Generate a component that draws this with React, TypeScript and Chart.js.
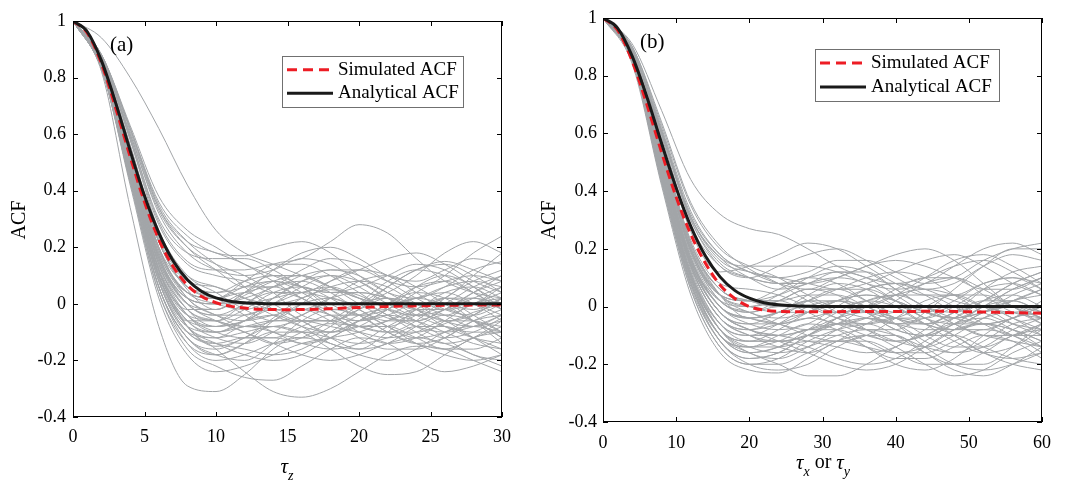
import React, { useEffect, useRef } from "react";
import { Chart, registerables } from "chart.js";
Chart.register(...registerables);

// ---------- Panel (a) data ----------
const tauA = [0,1,2,3,4,5,6,7,8,9,10,11,12,13,14,15,16,17,18,19,20,21,22,23,24,25,26,27,28,29,30];
const analyticalA = [1,0.962,0.858,0.708,0.541,0.382,0.251,0.152,0.085,0.044,0.021,0.0095,0.004,0.0015,0,0,0,0,0,0,0,0,0,0,0,0,0,0,0,0,0];
const simulatedA = [1,0.958,0.848,0.69,0.52,0.36,0.228,0.132,0.066,0.026,0.004,-0.008,-0.015,-0.019,-0.02,-0.021,-0.02,-0.019,-0.017,-0.015,-0.013,-0.011,-0.009,-0.008,-0.007,-0.006,-0.005,-0.005,-0.004,-0.004,-0.004];
const sampleTauA = [0,2,4,6,8,10,12,14,16,18,20,22,24,26,28,30];
const realizationsA = [
  [1,0.86,0.55,0.22,0.05,-0.02,0.03,0.08,0.10,0.06,0.00,-0.05,-0.06,-0.02,0.04,0.08],
  [1,0.84,0.48,0.12,-0.08,-0.15,-0.12,-0.05,0.02,0.05,0.03,-0.02,-0.08,-0.12,-0.10,-0.05],
  [1,0.82,0.34,-0.08,-0.29,-0.31,-0.25,-0.16,-0.10,-0.07,-0.08,-0.10,-0.10,-0.07,-0.03,0.00],
  [1,0.87,0.62,0.36,0.24,0.18,0.17,0.20,0.22,0.18,0.10,0.04,0.02,0.06,0.12,0.15],
  [1,0.94,0.80,0.62,0.42,0.26,0.18,0.14,0.10,0.06,0.02,0.00,0.02,0.06,0.08,0.06],
  [1,0.85,0.50,0.12,-0.08,-0.16,-0.24,-0.31,-0.33,-0.30,-0.24,-0.18,-0.15,-0.16,-0.20,-0.24],
  [1,0.86,0.54,0.20,0.04,0.02,0.08,0.14,0.16,0.22,0.28,0.25,0.16,0.08,0.04,0.02],
  [1,0.84,0.46,0.08,-0.10,-0.12,-0.08,-0.10,-0.14,-0.12,-0.06,0.00,0.04,0.02,-0.04,-0.10],
  [1,0.85,0.50,0.14,-0.02,-0.06,-0.02,0.04,0.06,0.02,-0.04,-0.10,-0.14,-0.16,-0.12,-0.06],
  [1,0.87,0.60,0.33,0.20,0.14,0.10,0.04,-0.04,-0.06,-0.02,0.06,0.12,0.15,0.12,0.08],
  [1,0.83,0.44,0.06,-0.14,-0.20,-0.18,-0.14,-0.12,-0.14,-0.18,-0.20,-0.16,-0.10,-0.08,-0.10],
  [1,0.85,0.52,0.18,0.02,-0.04,-0.08,-0.06,0.00,0.08,0.12,0.10,0.04,-0.02,-0.04,0.00],
  [1,0.87,0.59,0.30,0.18,0.16,0.16,0.12,0.06,0.00,-0.04,-0.02,0.04,0.10,0.18,0.24],
  [1,0.84,0.47,0.10,-0.06,-0.08,-0.04,-0.02,-0.06,-0.12,-0.16,-0.14,-0.08,-0.04,-0.06,-0.12],
  [1,0.87,0.58,0.26,0.10,0.04,-0.02,-0.06,-0.04,0.02,0.08,0.10,0.06,0.00,-0.06,-0.08],
  [1,0.83,0.43,0.04,-0.16,-0.22,-0.26,-0.27,-0.22,-0.16,-0.12,-0.14,-0.20,-0.24,-0.22,-0.18],
  [1,0.85,0.51,0.16,0.00,-0.02,0.04,0.12,0.18,0.20,0.16,0.10,0.08,0.12,0.16,0.14],
  [1,0.84,0.49,0.12,-0.04,-0.06,-0.10,-0.14,-0.12,-0.06,0.00,0.02,-0.02,-0.08,-0.12,-0.14],
  [1,0.86,0.53,0.19,0.04,0.02,0.04,0.00,-0.06,-0.10,-0.08,-0.02,0.02,0.00,-0.02,0.02],
  [1,0.85,0.50,0.14,-0.04,-0.10,-0.06,0.02,0.08,0.10,0.06,0.00,-0.04,-0.02,0.04,0.10],
  [1,0.83,0.45,0.06,-0.12,-0.16,-0.12,-0.08,-0.10,-0.16,-0.22,-0.25,-0.24,-0.18,-0.12,-0.10],
  [1,0.88,0.61,0.34,0.22,0.18,0.14,0.08,0.02,-0.02,0.00,0.06,0.12,0.14,0.10,0.04],
  [1,0.84,0.48,0.10,-0.06,-0.06,0.00,0.04,0.02,-0.04,-0.08,-0.06,-0.02,0.04,0.06,0.02],
  [1,0.86,0.54,0.20,0.02,-0.04,-0.06,-0.04,-0.02,-0.04,-0.10,-0.14,-0.12,-0.06,0.00,0.02],
  [1,0.85,0.52,0.17,0.02,0.00,0.02,0.06,0.12,0.16,0.14,0.08,0.02,-0.02,0.00,0.06],
  [1,0.84,0.46,0.08,-0.10,-0.14,-0.16,-0.18,-0.16,-0.10,-0.04,-0.02,-0.06,-0.12,-0.18,-0.20],
  [1,0.86,0.56,0.22,0.06,0.02,0.00,0.02,0.04,0.02,0.00,0.04,0.10,0.18,0.22,0.18],
  [1,0.85,0.49,0.13,-0.02,-0.02,0.04,0.08,0.04,-0.02,-0.06,-0.04,0.00,0.00,-0.06,-0.14],
  [1,0.83,0.44,0.06,-0.12,-0.18,-0.20,-0.14,-0.06,-0.02,-0.04,-0.10,-0.14,-0.12,-0.06,-0.02],
  [1,0.87,0.59,0.29,0.15,0.12,0.12,0.14,0.14,0.10,0.04,-0.02,-0.04,0.00,0.06,0.10],
  [1,0.84,0.47,0.09,-0.08,-0.10,-0.06,-0.04,-0.08,-0.14,-0.16,-0.10,-0.02,0.02,0.00,-0.04],
  [1,0.88,0.62,0.35,0.22,0.14,0.06,-0.02,-0.06,-0.06,-0.02,0.02,0.00,-0.04,-0.08,-0.06],
  [1,0.85,0.51,0.16,0.00,-0.04,-0.04,0.00,0.04,0.06,0.02,-0.04,-0.08,-0.10,-0.08,-0.04],
  [1,0.84,0.47,0.10,-0.08,-0.14,-0.18,-0.20,-0.18,-0.12,-0.08,-0.08,-0.12,-0.16,-0.16,-0.12],
  [1,0.87,0.58,0.28,0.14,0.10,0.08,0.04,0.04,0.08,0.12,0.16,0.18,0.14,0.08,0.04],
  [1,0.85,0.50,0.14,-0.02,-0.06,-0.08,-0.08,-0.06,-0.06,-0.08,-0.08,-0.04,0.02,0.02,-0.02],
  [1,0.85,0.53,0.20,0.06,0.02,-0.04,-0.10,-0.12,-0.08,0.00,0.08,0.12,0.10,0.04,-0.02],
  [1,0.84,0.46,0.10,-0.06,-0.12,-0.14,-0.10,-0.04,0.00,0.00,-0.04,-0.10,-0.14,-0.12,-0.08],
  [1,0.88,0.63,0.38,0.26,0.20,0.14,0.10,0.06,0.04,0.06,0.10,0.14,0.12,0.06,0.00],
  [1,0.85,0.50,0.15,0.00,-0.06,-0.10,-0.14,-0.18,-0.20,-0.18,-0.14,-0.12,-0.14,-0.18,-0.22],
  [1,0.83,0.42,0.02,-0.18,-0.24,-0.22,-0.18,-0.14,-0.12,-0.10,-0.06,-0.02,-0.02,-0.06,-0.12],
  [1,0.86,0.55,0.22,0.06,0.04,0.08,0.10,0.06,-0.02,-0.08,-0.10,-0.06,0.02,0.08,0.12],
  [1,0.84,0.48,0.12,-0.04,-0.08,-0.06,0.00,0.06,0.10,0.08,0.02,-0.04,-0.08,-0.10,-0.10],
  [1,0.87,0.60,0.32,0.18,0.12,0.10,0.12,0.16,0.14,0.08,0.02,-0.02,-0.02,0.02,0.06],
  [1,0.85,0.51,0.17,0.02,0.00,0.00,-0.04,-0.08,-0.10,-0.06,0.00,0.06,0.08,0.04,-0.02],
  [1,0.84,0.47,0.10,-0.08,-0.12,-0.10,-0.08,-0.10,-0.10,-0.06,-0.04,-0.06,-0.10,-0.14,-0.16],
  [1,0.86,0.54,0.22,0.08,0.06,0.02,0.00,0.02,0.06,0.08,0.06,0.00,-0.06,-0.08,-0.04],
  [1,0.83,0.44,0.06,-0.12,-0.18,-0.14,-0.06,0.00,0.02,-0.02,-0.08,-0.12,-0.10,-0.04,0.02],
  [1,0.85,0.52,0.18,0.04,0.02,0.06,0.08,0.06,0.04,0.04,0.02,-0.02,-0.04,0.00,0.04],
  [1,0.84,0.48,0.12,-0.04,-0.10,-0.12,-0.12,-0.08,-0.04,-0.04,-0.08,-0.14,-0.18,-0.20,-0.18],
  [1,0.88,0.62,0.34,0.20,0.12,0.06,0.06,0.10,0.12,0.10,0.04,0.00,0.02,0.10,0.18],
  [1,0.85,0.50,0.15,-0.02,-0.08,-0.06,-0.02,-0.02,-0.06,-0.12,-0.16,-0.16,-0.12,-0.06,-0.04],
  [1,0.86,0.53,0.19,0.04,0.00,-0.02,0.02,0.08,0.12,0.12,0.08,0.06,0.08,0.10,0.08],
  [1,0.84,0.45,0.08,-0.10,-0.14,-0.12,-0.12,-0.14,-0.16,-0.14,-0.08,-0.04,-0.06,-0.12,-0.18],
  [1,0.85,0.52,0.17,0.00,-0.04,0.00,0.06,0.08,0.04,-0.02,-0.06,-0.06,-0.02,0.02,0.00],
  [1,0.86,0.56,0.24,0.10,0.06,0.02,-0.02,-0.02,0.02,0.04,0.02,-0.02,-0.06,-0.04,0.02],
  [1,0.84,0.47,0.11,-0.06,-0.10,-0.08,-0.06,-0.06,-0.08,-0.10,-0.12,-0.10,-0.06,-0.06,-0.10],
  [1,0.85,0.51,0.16,0.02,0.00,0.04,0.06,0.02,-0.04,-0.06,-0.02,0.06,0.10,0.06,-0.02],
  [1,0.83,0.43,0.04,-0.14,-0.18,-0.14,-0.10,-0.10,-0.12,-0.14,-0.12,-0.08,-0.08,-0.12,-0.16],
  [1,0.86,0.55,0.23,0.08,0.04,0.06,0.10,0.10,0.06,0.02,0.00,0.02,0.04,0.00,-0.06],
];

// ---------- Panel (b) data ----------
const tauB = [0,2,4,6,8,10,12,14,16,18,20,22,24,26,28,30,32,34,36,38,40,42,44,46,48,50,52,54,56,58,60];
const analyticalB = [1,0.965,0.867,0.726,0.566,0.411,0.278,0.175,0.103,0.056,0.029,0.0135,0.006,0.0025,0.001,0,0,0,0,0,0,0,0,0,0,0,0,0,0,0,0];
const simulatedB = [1,0.958,0.85,0.70,0.535,0.38,0.25,0.15,0.075,0.028,0.0,-0.012,-0.017,-0.018,-0.018,-0.018,-0.018,-0.017,-0.017,-0.017,-0.017,-0.017,-0.016,-0.016,-0.017,-0.018,-0.019,-0.02,-0.021,-0.022,-0.023];
const sampleTauB = [0,4,8,12,16,20,24,28,32,36,40,44,48,52,56,60];
const realizationsB = [
  [1,0.88,0.55,0.22,0.04,-0.04,-0.02,0.04,0.08,0.06,0.00,-0.06,-0.08,-0.04,0.02,0.06],
  [1,0.86,0.48,0.12,-0.08,-0.16,-0.18,-0.14,-0.08,-0.04,-0.06,-0.12,-0.16,-0.14,-0.08,-0.04],
  [1,0.84,0.42,0.04,-0.16,-0.22,-0.23,-0.18,-0.12,-0.10,-0.14,-0.20,-0.24,-0.22,-0.16,-0.12],
  [1,0.91,0.68,0.44,0.32,0.27,0.25,0.20,0.14,0.10,0.08,0.10,0.14,0.16,0.12,0.06],
  [1,0.89,0.60,0.30,0.14,0.10,0.14,0.18,0.20,0.16,0.10,0.06,0.08,0.14,0.18,0.16],
  [1,0.87,0.50,0.16,-0.02,-0.06,-0.02,0.02,-0.02,-0.08,-0.12,-0.10,-0.04,0.02,0.04,0.00],
  [1,0.88,0.54,0.20,0.04,0.02,0.06,0.10,0.08,0.02,-0.04,-0.06,-0.02,0.06,0.12,0.14],
  [1,0.86,0.46,0.10,-0.10,-0.14,-0.10,-0.06,-0.08,-0.14,-0.20,-0.22,-0.18,-0.10,-0.04,-0.02],
  [1,0.89,0.61,0.32,0.18,0.12,0.08,0.06,0.10,0.14,0.18,0.20,0.16,0.08,0.00,-0.04],
  [1,0.87,0.51,0.17,0.00,-0.06,-0.08,-0.06,0.00,0.06,0.08,0.04,-0.02,-0.06,-0.04,0.02],
  [1,0.85,0.44,0.08,-0.12,-0.18,-0.16,-0.10,-0.06,-0.08,-0.12,-0.14,-0.10,-0.04,-0.02,-0.06],
  [1,0.89,0.60,0.31,0.17,0.10,0.06,0.08,0.12,0.12,0.06,0.00,-0.02,0.02,0.08,0.12],
  [1,0.87,0.49,0.14,-0.04,-0.10,-0.12,-0.10,-0.04,0.02,0.04,0.00,-0.06,-0.10,-0.12,-0.14],
  [1,0.88,0.53,0.19,0.02,-0.02,0.00,0.00,-0.04,-0.08,-0.08,-0.02,0.06,0.14,0.20,0.20],
  [1,0.86,0.47,0.11,-0.08,-0.12,-0.08,-0.02,0.02,0.00,-0.06,-0.14,-0.20,-0.22,-0.20,-0.16],
  [1,0.89,0.61,0.31,0.17,0.14,0.14,0.14,0.12,0.08,0.06,0.08,0.14,0.20,0.22,0.18],
  [1,0.87,0.50,0.15,-0.02,-0.08,-0.10,-0.12,-0.14,-0.16,-0.14,-0.08,-0.02,0.00,-0.04,-0.10],
  [1,0.88,0.55,0.21,0.04,-0.02,-0.04,-0.02,0.02,0.04,0.02,-0.02,-0.04,-0.02,0.02,0.04],
  [1,0.86,0.45,0.09,-0.10,-0.16,-0.20,-0.24,-0.24,-0.20,-0.14,-0.10,-0.10,-0.14,-0.18,-0.20],
  [1,0.88,0.52,0.18,0.02,0.00,0.04,0.10,0.14,0.12,0.06,0.00,-0.04,-0.06,-0.04,0.00],
  [1,0.87,0.48,0.13,-0.06,-0.10,-0.06,0.00,0.02,-0.02,-0.08,-0.10,-0.06,0.00,0.02,-0.02],
  [1,0.90,0.63,0.35,0.20,0.14,0.10,0.04,0.00,0.00,0.04,0.10,0.16,0.18,0.14,0.08],
  [1,0.87,0.50,0.15,-0.02,-0.06,-0.06,-0.04,-0.06,-0.10,-0.12,-0.10,-0.06,-0.06,-0.10,-0.14],
  [1,0.85,0.43,0.06,-0.14,-0.20,-0.18,-0.12,-0.08,-0.06,-0.04,-0.06,-0.10,-0.16,-0.20,-0.22],
  [1,0.88,0.54,0.20,0.04,0.02,0.02,-0.02,-0.06,-0.04,0.02,0.08,0.10,0.06,0.00,-0.06],
  [1,0.87,0.49,0.14,-0.04,-0.08,-0.04,0.02,0.06,0.06,0.02,-0.04,-0.08,-0.08,-0.04,0.00],
  [1,0.89,0.58,0.26,0.12,0.14,0.18,0.22,0.20,0.14,0.08,0.04,0.04,0.08,0.10,0.08],
  [1,0.86,0.47,0.11,-0.08,-0.12,-0.12,-0.14,-0.18,-0.20,-0.18,-0.12,-0.06,-0.04,-0.08,-0.14],
  [1,0.88,0.53,0.19,0.02,-0.02,-0.06,-0.08,-0.06,0.00,0.06,0.10,0.10,0.04,-0.02,-0.04],
  [1,0.87,0.51,0.16,0.00,-0.04,-0.02,0.00,0.00,-0.02,-0.04,-0.04,0.00,0.06,0.08,0.04],
  [1,0.86,0.46,0.10,-0.10,-0.16,-0.14,-0.08,-0.02,0.02,0.00,-0.06,-0.12,-0.16,-0.14,-0.08],
  [1,0.88,0.55,0.22,0.06,0.02,0.00,0.02,0.06,0.10,0.12,0.10,0.04,-0.02,-0.06,-0.08],
  [1,0.87,0.49,0.14,-0.04,-0.10,-0.14,-0.16,-0.12,-0.06,-0.02,-0.02,-0.06,-0.10,-0.10,-0.06],
  [1,0.90,0.62,0.33,0.18,0.12,0.10,0.12,0.16,0.16,0.12,0.08,0.10,0.16,0.20,0.22],
  [1,0.86,0.45,0.08,-0.12,-0.20,-0.22,-0.20,-0.14,-0.10,-0.10,-0.16,-0.22,-0.24,-0.20,-0.14],
  [1,0.88,0.52,0.17,0.00,-0.04,-0.06,-0.04,-0.02,-0.04,-0.06,-0.04,0.00,0.00,-0.04,-0.08],
  [1,0.88,0.54,0.20,0.04,0.00,0.02,0.06,0.04,-0.02,-0.08,-0.10,-0.06,0.00,0.06,0.10],
  [1,0.86,0.46,0.10,-0.08,-0.14,-0.16,-0.14,-0.10,-0.08,-0.10,-0.14,-0.16,-0.12,-0.06,-0.04],
  [1,0.89,0.61,0.31,0.16,0.12,0.10,0.08,0.06,0.08,0.12,0.16,0.18,0.14,0.08,0.04],
  [1,0.87,0.50,0.15,-0.02,-0.08,-0.12,-0.16,-0.20,-0.22,-0.20,-0.14,-0.08,-0.06,-0.08,-0.12],
  [1,0.85,0.44,0.07,-0.12,-0.18,-0.16,-0.10,-0.04,0.00,0.00,-0.04,-0.10,-0.16,-0.18,-0.16],
  [1,0.88,0.56,0.22,0.06,0.02,0.04,0.08,0.10,0.08,0.02,-0.04,-0.06,-0.02,0.04,0.08],
  [1,0.87,0.49,0.14,-0.04,-0.08,-0.06,-0.02,0.02,0.04,0.02,-0.02,-0.04,-0.02,0.00,-0.02],
  [1,0.89,0.60,0.30,0.15,0.10,0.08,0.10,0.12,0.10,0.04,-0.02,-0.04,0.00,0.06,0.10],
  [1,0.86,0.47,0.11,-0.06,-0.10,-0.10,-0.08,-0.06,-0.06,-0.10,-0.16,-0.20,-0.20,-0.14,-0.06],
  [1,0.87,0.51,0.16,0.00,-0.04,-0.06,-0.10,-0.12,-0.10,-0.04,0.02,0.04,0.00,-0.06,-0.10],
  [1,0.90,0.64,0.36,0.21,0.13,0.08,0.02,-0.02,0.00,0.04,0.06,0.04,0.00,-0.02,0.00],
  [1,0.85,0.44,0.08,-0.10,-0.14,-0.12,-0.08,-0.08,-0.12,-0.16,-0.16,-0.12,-0.08,-0.10,-0.16],
  [1,0.88,0.53,0.19,0.04,0.02,0.02,0.04,0.04,0.00,-0.04,-0.06,-0.04,0.02,0.08,0.12],
  [1,0.87,0.50,0.15,-0.02,-0.08,-0.10,-0.08,-0.04,-0.02,-0.04,-0.10,-0.14,-0.14,-0.10,-0.06],
  [1,0.89,0.59,0.28,0.14,0.10,0.08,0.08,0.10,0.14,0.16,0.14,0.10,0.06,0.06,0.10],
  [1,0.86,0.47,0.11,-0.08,-0.14,-0.14,-0.12,-0.12,-0.14,-0.16,-0.14,-0.08,-0.02,0.00,-0.04],
  [1,0.88,0.54,0.20,0.04,0.00,-0.02,-0.02,0.02,0.06,0.08,0.06,0.02,0.00,0.02,0.06],
  [1,0.86,0.45,0.09,-0.10,-0.16,-0.14,-0.10,-0.10,-0.14,-0.18,-0.18,-0.14,-0.10,-0.12,-0.18],
  [1,0.87,0.52,0.17,0.00,-0.04,-0.02,0.02,0.02,-0.02,-0.06,-0.06,-0.02,0.02,0.02,-0.02],
  [1,0.88,0.56,0.23,0.08,0.06,0.04,0.00,-0.04,-0.06,-0.04,0.00,0.04,0.04,0.00,-0.04],
  [1,0.86,0.48,0.12,-0.06,-0.12,-0.12,-0.10,-0.06,-0.04,-0.06,-0.08,-0.08,-0.06,-0.08,-0.12],
  [1,0.87,0.51,0.16,0.02,-0.02,0.02,0.06,0.06,0.02,-0.02,-0.02,0.02,0.08,0.10,0.06],
  [1,0.85,0.43,0.06,-0.14,-0.20,-0.20,-0.16,-0.12,-0.12,-0.16,-0.20,-0.20,-0.16,-0.10,-0.08],
  [1,0.88,0.55,0.21,0.06,0.02,0.00,0.00,0.00,0.02,0.04,0.04,0.00,-0.06,-0.10,-0.10],
];

const yTicks = [-0.4, -0.2, 0, 0.2, 0.4, 0.6, 0.8, 1];
const legendLabels = ["Simulated ACF", "Analytical ACF"];

const GREY = "rgb(162,165,168)";
const RED = "rgb(237,28,36)";
const SERIF = '"Liberation Serif", "Times New Roman", serif';

type PanelCfg = {
  id: string;
  left: number;
  width: number;
  plotLeft: number;
  plotRight: number;
  plotTop: number;
  plotBottom: number;
  xMax: number;
  xStep: number;
  xPad: number;
  yPad: number;
  tau: number[];
  analytical: number[];
  simulated: number[];
  sampleTau: number[];
  realizations: number[][];
  tag: string;
  tagPos: [number, number];
  acfPos: [number, number];
  legendBox: [number, number, number, number];
  xTitle: "z" | "xy";
  xTitleCenter: [number, number];
};

const panels: PanelCfg[] = [
  {
    id: "a", left: 0, width: 532,
    plotLeft: 73, plotRight: 502, plotTop: 21, plotBottom: 417,
    xMax: 30, xStep: 5, xPad: 9, yPad: 7,
    tau: tauA, analytical: analyticalA, simulated: simulatedA,
    sampleTau: sampleTauA, realizations: realizationsA,
    tag: "(a)", tagPos: [110, 45], acfPos: [20, 220],
    legendBox: [282, 56, 463, 107],
    xTitle: "z", xTitleCenter: [287, 467],
  },
  {
    id: "b", left: 532, width: 533,
    plotLeft: 603, plotRight: 1042, plotTop: 18, plotBottom: 422,
    xMax: 60, xStep: 10, xPad: 10, yPad: 6,
    tau: tauB, analytical: analyticalB, simulated: simulatedB,
    sampleTau: sampleTauB, realizations: realizationsB,
    tag: "(b)", tagPos: [640, 42], acfPos: [550, 220],
    legendBox: [815, 49, 999, 101],
    xTitle: "xy", xTitleCenter: [823, 463],
  },
];

function makeOverlay(cfg: PanelCfg) {
  return {
    id: "overlay_" + cfg.id,
    afterDraw(chart: any) {
      const { ctx, chartArea: a, scales } = chart;
      const off = cfg.left;
      ctx.save();
      // frame
      ctx.strokeStyle = "#000";
      ctx.lineWidth = 1;
      ctx.setLineDash([]);
      ctx.strokeRect(Math.round(a.left) + 0.5, Math.round(a.top) + 0.5, Math.round(a.right - a.left) - 1, Math.round(a.bottom - a.top) - 1);
      // inward ticks
      const tl = 5;
      ctx.beginPath();
      scales.x.ticks.forEach((t: any) => {
        const px = Math.round(scales.x.getPixelForValue(t.value)) + 0.5;
        ctx.moveTo(px, a.bottom); ctx.lineTo(px, a.bottom - tl);
        ctx.moveTo(px, a.top); ctx.lineTo(px, a.top + tl);
      });
      scales.y.ticks.forEach((t: any) => {
        const py = Math.round(scales.y.getPixelForValue(t.value)) + 0.5;
        ctx.moveTo(a.left, py); ctx.lineTo(a.left + tl, py);
        ctx.moveTo(a.right, py); ctx.lineTo(a.right - tl, py);
      });
      ctx.stroke();

      // panel tag
      ctx.fillStyle = "#000";
      ctx.font = `21px ${SERIF}`;
      ctx.textAlign = "left";
      ctx.textBaseline = "middle";
      ctx.fillText(cfg.tag, cfg.tagPos[0] - off, cfg.tagPos[1]);

      // legend
      const [lx0, ly0, lx1, ly1] = cfg.legendBox;
      const bx = lx0 - off;
      ctx.fillStyle = "#fff";
      ctx.fillRect(bx, ly0, lx1 - lx0, ly1 - ly0);
      ctx.strokeStyle = "#707070";
      ctx.lineWidth = 1;
      ctx.strokeRect(bx + 0.5, ly0 + 0.5, lx1 - lx0, ly1 - ly0);
      const rowH = (ly1 - ly0) / 2;
      const sx0 = bx + 5, sx1 = bx + 51;
      const r1 = ly0 + rowH * 0.5 + 1, r2 = ly0 + rowH * 1.5 - 1;
      ctx.lineWidth = 3;
      ctx.strokeStyle = RED;
      ctx.setLineDash([10, 6]);
      ctx.beginPath(); ctx.moveTo(sx0, r1); ctx.lineTo(sx1, r1); ctx.stroke();
      ctx.setLineDash([]);
      ctx.strokeStyle = "#1a1a1a";
      ctx.beginPath(); ctx.moveTo(sx0, r2); ctx.lineTo(sx1, r2); ctx.stroke();
      ctx.fillStyle = "#000";
      ctx.font = `19px ${SERIF}`;
      ctx.textBaseline = "middle";
      ctx.fillText(legendLabels[0], sx1 + 5, r1);
      ctx.fillText(legendLabels[1], sx1 + 5, r2);

      // ACF y-title
      ctx.save();
      ctx.translate(cfg.acfPos[0] - off, cfg.acfPos[1]);
      ctx.rotate(-Math.PI / 2);
      ctx.font = `20px ${SERIF}`;
      ctx.textAlign = "center";
      ctx.textBaseline = "middle";
      ctx.fillText("ACF", 0, 0);
      ctx.restore();

      // x title
      const big = `italic 21px ${SERIF}`;
      const small = `italic 14px ${SERIF}`;
      const norm = `20px ${SERIF}`;
      const parts: [string, string, number][] =
        cfg.xTitle === "z"
          ? [["τ", big, 0], ["z", small, 9]]
          : [["τ", big, 0], ["x", small, 9], [" or ", norm, 0], ["τ", big, 0], ["y", small, 9]];
      let total = 0;
      parts.forEach(([s, f]) => { ctx.font = f; total += ctx.measureText(s).width; });
      let x = cfg.xTitleCenter[0] - off - total / 2;
      ctx.textAlign = "left";
      ctx.textBaseline = "middle";
      parts.forEach(([s, f, dy]) => {
        ctx.font = f;
        ctx.fillText(s, x, cfg.xTitleCenter[1] + dy);
        x += ctx.measureText(s).width;
      });
      ctx.restore();
    },
  };
}

function Panel({ cfg }: { cfg: PanelCfg }) {
  const ref = useRef<HTMLCanvasElement | null>(null);
  useEffect(() => {
    if (!ref.current) return;
    const greySets = cfg.realizations.map((r) => ({
      data: cfg.sampleTau.map((t, i) => ({ x: t, y: r[i] })),
      borderColor: GREY,
      borderWidth: 1,
      pointRadius: 0,
      cubicInterpolationMode: "monotone" as const,
      order: 3,
    }));
    const chart = new Chart(ref.current, {
      type: "line",
      data: {
        datasets: [
          {
            label: legendLabels[1],
            data: cfg.tau.map((t, i) => ({ x: t, y: cfg.analytical[i] })),
            borderColor: "#1a1a1a",
            borderWidth: 3,
            pointRadius: 0,
            cubicInterpolationMode: "monotone",
            order: 1,
          },
          {
            label: legendLabels[0],
            data: cfg.tau.map((t, i) => ({ x: t, y: cfg.simulated[i] })),
            borderColor: RED,
            borderWidth: 3,
            borderDash: [9, 5],
            pointRadius: 0,
            cubicInterpolationMode: "monotone",
            order: 2,
          },
          ...greySets,
        ] as any,
      },
      options: {
        responsive: false,
        animation: false,
        events: [],
        layout: {
          padding: {
            left: 0,
            top: cfg.plotTop,
            right: cfg.left + cfg.width - cfg.plotRight,
            bottom: 0,
          },
        },
        plugins: { legend: { display: false }, tooltip: { enabled: false } },
        scales: {
          x: {
            type: "linear",
            min: 0,
            max: cfg.xMax,
            grid: { display: false, drawTicks: false },
            border: { display: false },
            ticks: {
              stepSize: cfg.xStep,
              padding: cfg.xPad,
              color: "#000",
              font: { family: SERIF, size: 18 },
              maxRotation: 0,
            },
            afterFit: (s: any) => { s.height = 480 - cfg.plotBottom; },
          },
          y: {
            type: "linear",
            min: -0.4,
            max: 1,
            grid: { display: false, drawTicks: false },
            border: { display: false },
            afterBuildTicks: (s: any) => { s.ticks = yTicks.map((v) => ({ value: v })); },
            ticks: {
              padding: cfg.yPad,
              color: "#000",
              font: { family: SERIF, size: 18 },
              callback: (v: any) => String(Math.round(Number(v) * 10) / 10),
            },
            afterFit: (s: any) => { s.width = cfg.plotLeft - cfg.left; },
          },
        },
      },
      plugins: [makeOverlay(cfg)],
    });
    return () => chart.destroy();
  }, [cfg]);
  return (
    <canvas
      ref={ref}
      width={cfg.width}
      height={480}
      style={{ position: "absolute", left: cfg.left, top: 0, width: cfg.width, height: 480 }}
    />
  );
}

export default function App() {
  return (
    <div style={{ position: "absolute", left: 0, top: 0, width: 1065, height: 480, background: "#fff" }}>
      {panels.map((p) => (
        <Panel key={p.id} cfg={p} />
      ))}
    </div>
  );
}
